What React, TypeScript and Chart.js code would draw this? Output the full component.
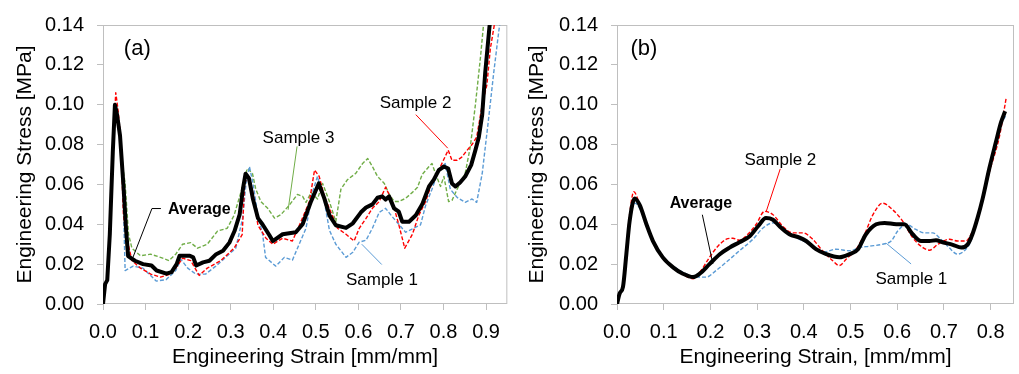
import React, { useEffect, useRef } from "react";
import { Chart, registerables } from "chart.js";

Chart.register(...registerables);

// ---------- Panel (a) data ----------
const avgA_strain = [0, 0.005, 0.01, 0.016, 0.023, 0.028, 0.033, 0.04, 0.048, 0.054, 0.059, 0.075, 0.094, 0.114, 0.126, 0.149, 0.161, 0.173, 0.18, 0.204, 0.212, 0.219, 0.235, 0.25, 0.266, 0.282, 0.297, 0.309, 0.321, 0.329, 0.335, 0.343, 0.352, 0.364, 0.375, 0.391, 0.399, 0.422, 0.453, 0.469, 0.489, 0.507, 0.52, 0.532, 0.547, 0.571, 0.587, 0.606, 0.618, 0.633, 0.645, 0.656, 0.664, 0.672, 0.684, 0.695, 0.703, 0.719, 0.735, 0.75, 0.766, 0.777, 0.789, 0.801, 0.811, 0.82, 0.828, 0.839, 0.851, 0.865, 0.875, 0.883, 0.891, 0.898, 0.908, 0.913];
const avgA_stress = [0, 0.010, 0.012, 0.035, 0.076, 0.100, 0.095, 0.0845, 0.0596, 0.038, 0.024, 0.0217, 0.020, 0.0193, 0.0168, 0.0152, 0.016, 0.020, 0.0242, 0.0242, 0.0234, 0.0193, 0.0209, 0.0217, 0.025, 0.0267, 0.0308, 0.0366, 0.0448, 0.058, 0.0654, 0.063, 0.053, 0.0431, 0.0399, 0.0345, 0.0316, 0.035, 0.036, 0.040, 0.0516, 0.0605, 0.053, 0.0445, 0.0395, 0.0382, 0.0405, 0.046, 0.0484, 0.050, 0.0533, 0.054, 0.0524, 0.054, 0.048, 0.0463, 0.0413, 0.0413, 0.0445, 0.050, 0.059, 0.0623, 0.0672, 0.069, 0.068, 0.0605, 0.059, 0.061, 0.064, 0.0697, 0.0772, 0.0837, 0.095, 0.116, 0.139, 0.148];

const s1A_strain = [0, 0.005, 0.01, 0.016, 0.023, 0.028, 0.033, 0.04, 0.047, 0.052, 0.071, 0.094, 0.125, 0.148, 0.171, 0.183, 0.199, 0.218, 0.241, 0.265, 0.288, 0.312, 0.328, 0.336, 0.344, 0.352, 0.363, 0.375, 0.382, 0.406, 0.426, 0.445, 0.461, 0.477, 0.492, 0.504, 0.52, 0.532, 0.547, 0.571, 0.587, 0.602, 0.618, 0.633, 0.649, 0.664, 0.68, 0.695, 0.711, 0.73, 0.746, 0.758, 0.773, 0.789, 0.804, 0.816, 0.832, 0.851, 0.867, 0.878, 0.891, 0.906, 0.918, 0.93, 0.936];
const s1A_stress = [0, 0.010, 0.012, 0.034, 0.074, 0.097, 0.093, 0.082, 0.058, 0.0168, 0.019, 0.018, 0.0115, 0.0122, 0.0168, 0.0224, 0.018, 0.015, 0.015, 0.019, 0.0234, 0.028, 0.043, 0.0605, 0.069, 0.061, 0.0457, 0.035, 0.0234, 0.019, 0.0234, 0.022, 0.030, 0.038, 0.056, 0.064, 0.0514, 0.037, 0.030, 0.0234, 0.026, 0.031, 0.032, 0.038, 0.046, 0.048, 0.0437, 0.040, 0.036, 0.038, 0.0397, 0.0494, 0.0576, 0.0672, 0.0705, 0.0576, 0.0535, 0.051, 0.0527, 0.051, 0.0655, 0.093, 0.116, 0.137, 0.146];

const s2A_strain = [0, 0.005, 0.01, 0.016, 0.023, 0.03, 0.035, 0.041, 0.048, 0.056, 0.068, 0.088, 0.112, 0.135, 0.159, 0.171, 0.187, 0.206, 0.226, 0.245, 0.277, 0.308, 0.327, 0.333, 0.343, 0.352, 0.364, 0.383, 0.399, 0.422, 0.445, 0.465, 0.485, 0.497, 0.508, 0.52, 0.535, 0.551, 0.571, 0.59, 0.602, 0.618, 0.633, 0.649, 0.664, 0.68, 0.695, 0.709, 0.727, 0.742, 0.758, 0.773, 0.789, 0.811, 0.82, 0.832, 0.843, 0.855, 0.867, 0.878, 0.891, 0.902, 0.91, 0.921];
const s2A_stress = [0, 0.010, 0.012, 0.036, 0.080, 0.106, 0.098, 0.085, 0.0445, 0.033, 0.0218, 0.018, 0.015, 0.0135, 0.015, 0.018, 0.023, 0.0218, 0.0143, 0.018, 0.0218, 0.028, 0.0348, 0.061, 0.064, 0.056, 0.0395, 0.033, 0.030, 0.033, 0.0316, 0.0413, 0.0514, 0.0672, 0.064, 0.054, 0.0463, 0.038, 0.035, 0.0316, 0.038, 0.043, 0.048, 0.0514, 0.0586, 0.0514, 0.0398, 0.028, 0.035, 0.0445, 0.0514, 0.061, 0.0672, 0.0772, 0.0721, 0.0721, 0.0737, 0.077, 0.080, 0.0837, 0.100, 0.110, 0.128, 0.142];

const s3A_strain = [0, 0.005, 0.01, 0.016, 0.023, 0.028, 0.033, 0.04, 0.047, 0.052, 0.06, 0.068, 0.088, 0.112, 0.135, 0.155, 0.171, 0.187, 0.206, 0.222, 0.245, 0.269, 0.292, 0.308, 0.324, 0.339, 0.351, 0.359, 0.371, 0.387, 0.403, 0.418, 0.438, 0.457, 0.469, 0.477, 0.489, 0.504, 0.516, 0.532, 0.547, 0.559, 0.574, 0.594, 0.61, 0.622, 0.633, 0.645, 0.661, 0.672, 0.684, 0.695, 0.711, 0.727, 0.739, 0.75, 0.766, 0.773, 0.781, 0.793, 0.801, 0.812, 0.82, 0.832, 0.851, 0.863, 0.875, 0.887, 0.894, 0.898];
const s3A_stress = [0, 0.010, 0.012, 0.035, 0.076, 0.099, 0.095, 0.085, 0.068, 0.0605, 0.035, 0.028, 0.0242, 0.025, 0.0234, 0.0218, 0.025, 0.030, 0.0308, 0.028, 0.030, 0.0366, 0.038, 0.0445, 0.056, 0.068, 0.0656, 0.0576, 0.0514, 0.048, 0.0431, 0.0448, 0.0497, 0.055, 0.054, 0.051, 0.056, 0.0527, 0.0605, 0.0514, 0.0413, 0.0576, 0.0623, 0.0656, 0.0705, 0.073, 0.069, 0.064, 0.0605, 0.0553, 0.0514, 0.0514, 0.053, 0.056, 0.0586, 0.065, 0.069, 0.0705, 0.0656, 0.059, 0.064, 0.0514, 0.052, 0.0576, 0.0656, 0.0788, 0.100, 0.124, 0.140, 0.147];

// ---------- Panel (b) data ----------
const avgB_strain = [0, 0.0057, 0.0128, 0.02, 0.027, 0.038, 0.0485, 0.063, 0.077, 0.098, 0.12, 0.141, 0.163, 0.177, 0.198, 0.22, 0.241, 0.262, 0.284, 0.302, 0.319, 0.334, 0.348, 0.369, 0.391, 0.405, 0.426, 0.448, 0.476, 0.498, 0.516, 0.533, 0.555, 0.573, 0.598, 0.615, 0.633, 0.651, 0.669, 0.683, 0.697, 0.719, 0.737, 0.751, 0.761, 0.772, 0.783, 0.797, 0.811, 0.822, 0.831];
const avgB_stress = [0, 0.0053, 0.0086, 0.025, 0.0415, 0.053, 0.0497, 0.040, 0.0316, 0.0234, 0.0184, 0.0152, 0.0135, 0.0152, 0.020, 0.025, 0.0283, 0.031, 0.034, 0.039, 0.0432, 0.0423, 0.039, 0.035, 0.0333, 0.0316, 0.0275, 0.025, 0.0234, 0.025, 0.0275, 0.035, 0.040, 0.0407, 0.040, 0.040, 0.035, 0.0316, 0.0316, 0.032, 0.031, 0.0297, 0.0283, 0.030, 0.035, 0.0432, 0.053, 0.0679, 0.081, 0.091, 0.0967];

const s1B_strain = [0, 0.0057, 0.0128, 0.02, 0.027, 0.038, 0.0485, 0.063, 0.077, 0.098, 0.12, 0.141, 0.163, 0.191, 0.212, 0.234, 0.262, 0.291, 0.312, 0.334, 0.355, 0.384, 0.412, 0.44, 0.469, 0.498, 0.519, 0.54, 0.569, 0.587, 0.601, 0.619, 0.64, 0.658, 0.676, 0.69, 0.711, 0.729, 0.747, 0.758, 0.772, 0.783, 0.797, 0.811, 0.822, 0.832];
const s1B_stress = [0, 0.0053, 0.0086, 0.024, 0.040, 0.0506, 0.048, 0.040, 0.032, 0.024, 0.019, 0.016, 0.0138, 0.0135, 0.0168, 0.021, 0.0267, 0.0325, 0.038, 0.0407, 0.038, 0.0333, 0.030, 0.0259, 0.0275, 0.0267, 0.0283, 0.029, 0.030, 0.0316, 0.0366, 0.040, 0.0374, 0.0357, 0.0357, 0.0333, 0.0283, 0.025, 0.0275, 0.0316, 0.043, 0.053, 0.067, 0.080, 0.090, 0.0942];

const s2B_strain = [0, 0.0057, 0.0128, 0.02, 0.027, 0.036, 0.0485, 0.063, 0.077, 0.098, 0.12, 0.141, 0.163, 0.18, 0.198, 0.216, 0.234, 0.248, 0.262, 0.28, 0.298, 0.316, 0.334, 0.355, 0.376, 0.398, 0.419, 0.44, 0.462, 0.476, 0.491, 0.512, 0.53, 0.548, 0.569, 0.59, 0.612, 0.633, 0.655, 0.669, 0.687, 0.712, 0.729, 0.747, 0.758, 0.776, 0.797, 0.819, 0.833];
const s2B_stress = [0, 0.0053, 0.0086, 0.027, 0.045, 0.0563, 0.050, 0.040, 0.031, 0.023, 0.018, 0.0148, 0.0127, 0.0168, 0.0234, 0.029, 0.0325, 0.033, 0.032, 0.035, 0.040, 0.0465, 0.0448, 0.039, 0.0357, 0.0357, 0.0325, 0.0267, 0.0217, 0.0193, 0.0226, 0.0275, 0.035, 0.0448, 0.0506, 0.0473, 0.0415, 0.0333, 0.0283, 0.027, 0.030, 0.0325, 0.0316, 0.0316, 0.035, 0.0465, 0.066, 0.0843, 0.103];

// ---------- Axis / label text ----------
const yTitle = "Engineering Stress [MPa]";
const xTitleA = "Engineering Strain [mm/mm]";
const xTitleB = "Engineering Strain, [mm/mm]";
const yMax = 0.14;
const yStep = 0.02;
const xStep = 0.1;

const BLUE = "#5B9BD5";
const RED = "#FF0000";
const GREEN = "#70AD47";
const GRAY = "#BFBFBF";
const FONT = "'Liberation Sans', Arial, sans-serif";

type Pt = { x: number; y: number };
const pts = (xs: number[], ys: number[]): Pt[] => xs.map((x, i) => ({ x, y: ys[i] }));

type Note = {
  text: string;
  x: number;
  y: number;
  bold?: boolean;
  size: number;
  color?: string;
  line?: [number, number][];
  lineColor?: string;
};

const notesA: Note[] = [
  { text: "(a)", x: 0.049, y: 0.125, size: 22 },
  { text: "Sample 3", x: 0.375, y: 0.081, size: 17, line: [[0.456, 0.0791], [0.435, 0.0473]], lineColor: GREEN },
  { text: "Sample 2", x: 0.65, y: 0.0982, size: 17, line: [[0.735, 0.095], [0.81, 0.0782]], lineColor: RED },
  { text: "Average", x: 0.153, y: 0.0451, size: 16, bold: true, line: [[0.136, 0.0479], [0.115, 0.0479], [0.07, 0.0232]], lineColor: "#000" },
  { text: "Sample 1", x: 0.571, y: 0.0094, size: 17, line: [[0.655, 0.0198], [0.608, 0.030]], lineColor: BLUE },
];

const notesB: Note[] = [
  { text: "(b)", x: 0.0287, y: 0.125, size: 22 },
  { text: "Sample 2", x: 0.273, y: 0.0698, size: 17, line: [[0.3495, 0.0678], [0.3196, 0.0465]], lineColor: RED },
  { text: "Average", x: 0.1127, y: 0.0481, size: 16, bold: true, line: [[0.1827, 0.0448], [0.2053, 0.0201]], lineColor: "#000" },
  { text: "Sample 1", x: 0.5534, y: 0.0102, size: 17, line: [[0.6297, 0.0201], [0.5763, 0.0305]], lineColor: BLUE },
];

const notesPlugin = {
  id: "notesAndBox",
  beforeDatasetsDraw(chart: any) {
    const { ctx, chartArea } = chart;
    ctx.save();
    ctx.strokeStyle = GRAY;
    ctx.lineWidth = 1;
    ctx.strokeRect(chartArea.left + 0.5, chartArea.top + 0.5, chartArea.right - chartArea.left - 1, chartArea.bottom - chartArea.top - 1);
    ctx.restore();
  },
  afterDatasetsDraw(chart: any, _args: any, opts: any) {
    const notes: Note[] = opts.notes || [];
    const { ctx, scales } = chart;
    const xs = scales.x;
    const ys = scales.y;
    ctx.save();
    for (const n of notes) {
      if (n.line) {
        ctx.beginPath();
        ctx.strokeStyle = n.lineColor || "#000";
        ctx.lineWidth = 1;
        n.line.forEach(([lx, ly], i) => {
          const px = xs.getPixelForValue(lx);
          const py = ys.getPixelForValue(ly);
          if (i === 0) ctx.moveTo(px, py);
          else ctx.lineTo(px, py);
        });
        ctx.stroke();
      }
      ctx.fillStyle = n.color || "#000";
      ctx.font = `${n.bold ? "bold " : ""}${n.size}px ${FONT}`;
      ctx.textAlign = "left";
      ctx.textBaseline = "alphabetic";
      ctx.fillText(n.text, xs.getPixelForValue(n.x), ys.getPixelForValue(n.y));
    }
    ctx.restore();
  },
};

type Series = { label: string; data: Pt[]; color: string; avg?: boolean; order: number };

function makeConfig(series: Series[], xMax: number, xTitle: string, padLeft: number, yWidth: number, padRight: number, notes: Note[], smooth: boolean) {
  return {
    type: "line" as const,
    data: {
      datasets: series.map((s) => ({
        label: s.label,
        data: s.data,
        borderColor: s.color,
        backgroundColor: s.color,
        borderWidth: s.avg ? 4 : 1.4,
        borderDash: s.avg ? [] : [4, 2],
        pointRadius: 0,
        fill: false,
        order: s.order,
        clip: 0,
        tension: 0,
        cubicInterpolationMode: smooth ? ("monotone" as const) : ("default" as const),
        borderJoinStyle: "round" as const,
      })),
    },
    options: {
      responsive: false,
      animation: false as const,
      devicePixelRatio: 1,
      layout: { padding: { left: padLeft, right: padRight, top: 21, bottom: 0 } },
      plugins: {
        legend: { display: false },
        tooltip: { enabled: false },
        notesAndBox: { notes },
      },
      scales: {
        x: {
          type: "linear" as const,
          min: 0,
          max: xMax,
          afterFit: (s: any) => {
            s.height = 70;
          },
          ticks: {
            stepSize: xStep,
            includeBounds: false,
            autoSkip: false,
            maxRotation: 0,
            color: "#000",
            padding: 10,
            font: { family: FONT, size: 20 },
            callback: (v: any) => Number(v).toFixed(1),
          },
          grid: { drawOnChartArea: false, drawTicks: true, tickLength: 6, color: GRAY },
          border: { display: false },
          title: {
            display: true,
            text: xTitle,
            color: "#000",
            font: { family: FONT, size: 21 },
            padding: { top: 0, bottom: 4 },
          },
        },
        y: {
          type: "linear" as const,
          min: 0,
          max: yMax,
          afterFit: (s: any) => {
            s.width = yWidth;
          },
          ticks: {
            stepSize: yStep,
            includeBounds: false,
            autoSkip: false,
            color: "#000",
            padding: 13,
            font: { family: FONT, size: 20 },
            callback: (v: any) => Number(v).toFixed(2),
          },
          grid: { drawOnChartArea: false, drawTicks: true, tickLength: 6, color: GRAY },
          border: { display: false },
          title: {
            display: true,
            text: yTitle,
            color: "#000",
            font: { family: FONT, size: 21 },
            padding: { top: 4, bottom: 0 },
          },
        },
      },
    },
    plugins: [notesPlugin],
  };
}

function Panel(props: { width: number; height: number; config: any; left: number }) {
  const ref = useRef<HTMLCanvasElement | null>(null);
  useEffect(() => {
    if (!ref.current) return;
    const chart = new Chart(ref.current, props.config);
    return () => chart.destroy();
  }, []);
  return (
    <canvas
      ref={ref}
      width={props.width}
      height={props.height}
      style={{ position: "absolute", left: props.left, top: 0, width: props.width, height: props.height, display: "block" }}
    />
  );
}

export default function App() {
  const seriesA: Series[] = [
    { label: "Average", data: pts(avgA_strain, avgA_stress), color: "#000", avg: true, order: 0 },
    { label: "Sample 2", data: pts(s2A_strain, s2A_stress), color: RED, order: 1 },
    { label: "Sample 1", data: pts(s1A_strain, s1A_stress), color: BLUE, order: 2 },
    { label: "Sample 3", data: pts(s3A_strain, s3A_stress), color: GREEN, order: 3 },
  ];
  const seriesB: Series[] = [
    { label: "Average", data: pts(avgB_strain, avgB_stress), color: "#000", avg: true, order: 0 },
    { label: "Sample 2", data: pts(s2B_strain, s2B_stress), color: RED, order: 1 },
    { label: "Sample 1", data: pts(s1B_strain, s1B_stress), color: BLUE, order: 2 },
  ];
  const cfgA = makeConfig(seriesA, 0.95, xTitleA, 9, 94, 1, notesA, false);
  const cfgB = makeConfig(seriesB, 0.85, xTitleB, 11, 96, 5, notesB, true);
  return (
    <div style={{ position: "fixed", left: 0, top: 0, width: 1019, height: 374, background: "#fff", overflow: "hidden" }}>
      <Panel width={510} height={374} left={0} config={cfgA} />
      <Panel width={509} height={374} left={510} config={cfgB} />
    </div>
  );
}
